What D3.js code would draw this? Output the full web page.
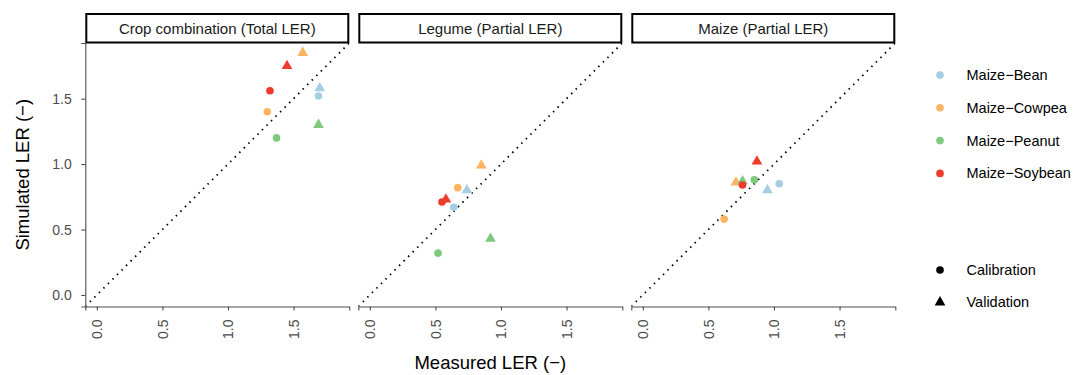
<!DOCTYPE html>
<html>
<head>
<meta charset="utf-8">
<script src="https://cdn.jsdelivr.net/npm/d3@7"></script>
<style>
  body { margin: 0; background: #fff; }
  svg { font-family: 'Liberation Sans', Arial, sans-serif; }
</style>
</head>
<body>
<div id="chart"></div>
<script>
// panel titles
const panels = ['Crop combination (Total LER)', 'Legume (Partial LER)', 'Maize (Partial LER)'];
const combos = ['Maize\u2212Bean', 'Maize\u2212Cowpea', 'Maize\u2212Peanut', 'Maize\u2212Soybean'];
const comboColors = ['#a6cee3', '#fdb462', '#7fc97f', '#ef3b2c'];
const phases = ['Calibration', 'Validation'];
const ticks = [0, 0.5, 1.0, 1.5];

// one row per point: panel index, combo index, phase index
const pointPanel = [0,0,0,0,0,0,0,0, 1,1,1,1,1,1,1,1, 2,2,2,2,2,2,2,2];
const pointCombo = [0,0,1,1,2,2,3,3, 0,0,1,1,2,2,3,3, 0,0,1,1,2,2,3,3];
const pointPhase = [0,1,0,1,0,1,0,1, 0,1,0,1,0,1,0,1, 0,1,0,1,0,1,0,1];
const measured  = [1.69,1.70, 1.30,1.57, 1.37,1.69, 1.32,1.45,
                   0.64,0.74, 0.67,0.85, 0.52,0.92, 0.55,0.58,
                   1.04,0.95, 0.62,0.71, 0.85,0.76, 0.76,0.87];
const simulated = [1.52,1.58, 1.40,1.85, 1.20,1.30, 1.56,1.75,
                   0.67,0.80, 0.82,0.99, 0.32,0.43, 0.71,0.73,
                   0.85,0.80, 0.58,0.86, 0.88,0.87, 0.84,1.02];

const width = 1073, height = 375;
const svg = d3.select('#chart').append('svg')
  .attr('width', width).attr('height', height);

const panelLeft = [85.3, 358.3, 631.3];
const panelW = 264;
const plotTop = 43, plotBottom = 306.5;
const domain = [-0.088, 1.925];

const y = d3.scaleLinear().domain(domain).range([plotBottom, plotTop]);
const axisColor = '#4d4d4d';

const symCircle = d3.symbol().type(d3.symbolCircle).size(46);
const symTri = d3.symbol().type(d3.symbolTriangle).size(50);

panels.forEach((title, p) => {
  const x0 = panelLeft[p];
  const x = d3.scaleLinear().domain(domain).range([x0, x0 + panelW]);
  const g = svg.append('g');

  // strip
  g.append('rect')
    .attr('x', x0 + 1).attr('y', 14)
    .attr('width', panelW - 2).attr('height', 28.5)
    .attr('fill', '#fff').attr('stroke', '#000').attr('stroke-width', 2);
  g.append('text')
    .attr('x', x0 + panelW / 2).attr('y', 34)
    .attr('text-anchor', 'middle')
    .attr('font-size', 15).attr('fill', '#1a1a1a')
    .text(title);

  // 1:1 line
  const clipId = 'clip' + p;
  g.append('clipPath').attr('id', clipId).append('rect')
    .attr('x', x0).attr('y', plotTop).attr('width', panelW).attr('height', plotBottom - plotTop);
  g.append('line')
    .attr('clip-path', `url(#${clipId})`)
    .attr('x1', x(domain[0])).attr('y1', y(domain[0]))
    .attr('x2', x(domain[1])).attr('y2', y(domain[1]))
    .attr('stroke', '#000').attr('stroke-width', 1.8)
    .attr('stroke-dasharray', '1.5,4.9');

  // x axis
  const xAxis = g.append('g')
    .attr('transform', `translate(0,${plotBottom})`)
    .call(d3.axisBottom(x).tickValues(ticks).tickSize(4).tickFormat(d3.format('.1f')));
  xAxis.select('.domain').attr('stroke', axisColor).attr('stroke-width', 1.1);
  xAxis.selectAll('.tick line').attr('stroke', axisColor).attr('stroke-width', 1.1);
  xAxis.selectAll('.tick text')
    .attr('fill', axisColor).attr('font-size', 14)
    .attr('font-family', "'Liberation Sans', Arial, sans-serif")
    .attr('transform', 'rotate(-90)')
    .attr('text-anchor', 'end')
    .attr('x', -13).attr('y', 0).attr('dy', '0.35em');

  if (p === 0) {
    const yAxis = g.append('g')
      .attr('transform', `translate(${x0},0)`)
      .call(d3.axisLeft(y).tickValues(ticks).tickSize(4).tickFormat(d3.format('.1f')));
    yAxis.select('.domain').attr('stroke', axisColor).attr('stroke-width', 1.1);
    yAxis.selectAll('.tick line').attr('stroke', axisColor).attr('stroke-width', 1.1);
    yAxis.selectAll('.tick text')
      .attr('fill', axisColor).attr('font-size', 14)
      .attr('font-family', "'Liberation Sans', Arial, sans-serif")
      .attr('x', -13.5);
  }

  // points
  const idx = d3.range(measured.length).filter(i => pointPanel[i] === p);
  g.selectAll('path.pt')
    .data(idx)
    .join('path')
    .attr('class', 'pt')
    .attr('d', i => pointPhase[i] === 0 ? symCircle() : symTri())
    .attr('transform', i => `translate(${x(measured[i])},${y(simulated[i])})`)
    .attr('fill', i => comboColors[pointCombo[i]]);
});

// axis titles
svg.append('text')
  .attr('x', (panelLeft[0] + panelLeft[2] + panelW) / 2).attr('y', 369)
  .attr('text-anchor', 'middle').attr('font-size', 18.5).attr('fill', '#000')
  .text('Measured LER (\u2212)');
svg.append('text')
  .attr('transform', `translate(28.5,${(plotTop + plotBottom) / 2}) rotate(-90)`)
  .attr('text-anchor', 'middle').attr('font-size', 18.5).attr('fill', '#000')
  .text('Simulated LER (\u2212)');

// legend: combos
const legend = svg.append('g');
const comboRows = legend.selectAll('g.combo')
  .data(combos)
  .join('g')
  .attr('class', 'combo')
  .attr('transform', (d, i) => `translate(940,${75 + i * 32.8})`);
comboRows.append('path')
  .attr('d', symCircle())
  .attr('fill', (d, i) => comboColors[i]);
comboRows.append('text')
  .attr('x', 26.5).attr('dy', '0.35em')
  .attr('font-size', 14.5).attr('fill', '#000')
  .text(d => d);

// legend: phases
const phaseRows = legend.selectAll('g.phase')
  .data(phases)
  .join('g')
  .attr('class', 'phase')
  .attr('transform', (d, i) => `translate(940,${270 + i * 32.3})`);
phaseRows.append('path')
  .attr('d', (d, i) => i === 0 ? symCircle() : symTri())
  .attr('fill', '#000');
phaseRows.append('text')
  .attr('x', 26.5).attr('dy', '0.35em')
  .attr('font-size', 14.5).attr('fill', '#000')
  .text(d => d);
</script>
</body>
</html>
